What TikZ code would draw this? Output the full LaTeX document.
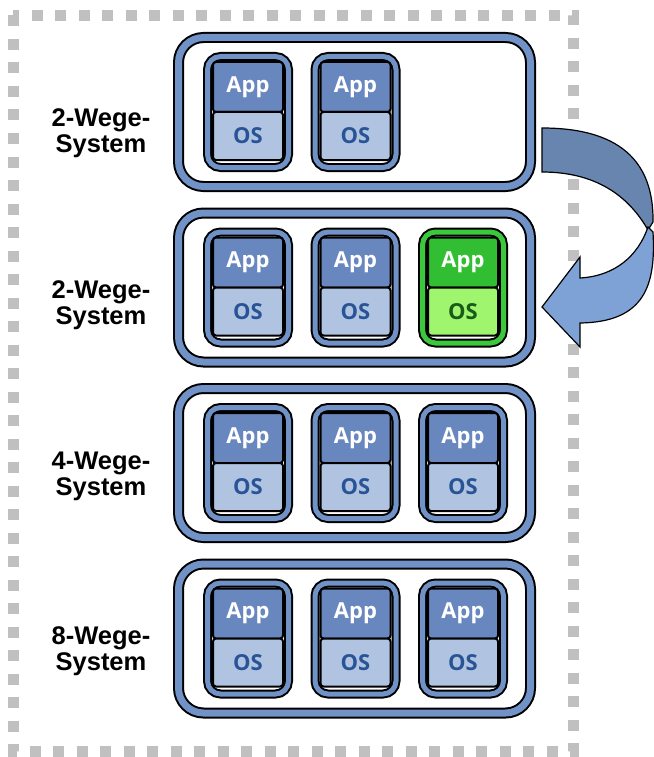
\documentclass[tikz,border=0pt]{standalone}
\usepackage{fontspec}
\setmainfont{Liberation Sans}
\newfontfamily\vmfont{Open Sans}
\usetikzlibrary{positioning}

\definecolor{bandblue}{RGB}{112,146,198}
\definecolor{appblue}{RGB}{104,135,190}
\definecolor{osblue}{RGB}{176,196,226}
\definecolor{ostext}{RGB}{40,84,150}
\definecolor{bandgreen}{RGB}{60,200,60}
\definecolor{appgreen}{RGB}{50,190,50}
\definecolor{osgreen}{RGB}{160,245,110}
\definecolor{osgreentext}{RGB}{25,90,25}
\definecolor{framegray}{RGB}{192,192,192}
\definecolor{arrowdark}{RGB}{104,133,176}
\definecolor{arrowlight}{RGB}{126,162,214}

\begin{document}
\begin{tikzpicture}[
  x=1pt, y=1pt,
  system/.style = {draw=black, line width=2pt, double=bandblue, double distance=7pt, rounded corners=25pt, minimum width=352pt, minimum height=149pt},
  vm/.style = {draw=black, line width=2pt, double=bandblue, double distance=5pt, rounded corners=13pt, minimum width=81pt, minimum height=111pt},
  vmpart/.style = {draw=black, line width=2pt, rounded corners=3pt, minimum width=70pt, inner sep=0pt, outer sep=0pt, font=\vmfont\bfseries\fontsize{22}{22}\selectfont},
  app/.style = {vmpart, fill=appblue, text=white, minimum height=50pt},
  os/.style = {vmpart, fill=osblue, text=ostext, minimum height=48pt},
  newvm/.style = {vm, double=bandgreen},
  newapp/.style = {app, fill=appgreen},
  newos/.style = {os, fill=osgreen, text=osgreentext},
  sysname/.style = {align=center, font=\bfseries\fontsize{25.5}{26}\selectfont},
  dotframe/.style = {draw=framegray, line width=11pt, dash pattern=on 11pt off 12.5pt}
]
  \useasboundingbox (0,0) rectangle (653,-757);

  % dotted frame
  \draw[dotframe] (13,-15.5) rectangle (573,-751);

  % systems
  \node[system] (sys1) at (354.5,-112) {};
  \node[system] (sys2) at (354.5,-287.5) {};
  \node[system] (sys3) at (354.5,-463) {};
  \node[system] (sys4) at (354.5,-638.5) {};

  \node[sysname] (name1) at (101,-133.5) {2-Wege-\\System};
  \node[sysname] (name2) at (101,-305) {2-Wege-\\System};
  \node[sysname] (name3) at (101,-476.5) {4-Wege-\\System};
  \node[sysname] (name4) at (101,-651.5) {8-Wege-\\System};

  % first system
  \node[vm] (vm11) at ([xshift=-106.5pt]sys1.center) {};
  \node[app, above=0pt of vm11.center] (app11) {App};
  \node[os, below=0pt of vm11.center] (os11) {OS};
  \node[vm] (vm12) at ([xshift=1pt]sys1.center) {};
  \node[app, above=0pt of vm12.center] (app12) {App};
  \node[os, below=0pt of vm12.center] (os12) {OS};

  % second system, with the moved machine
  \node[vm] (vm21) at ([xshift=-106.5pt]sys2.center) {};
  \node[app, above=0pt of vm21.center] (app21) {App};
  \node[os, below=0pt of vm21.center] (os21) {OS};
  \node[vm] (vm22) at ([xshift=1pt]sys2.center) {};
  \node[app, above=0pt of vm22.center] (app22) {App};
  \node[os, below=0pt of vm22.center] (os22) {OS};
  \node[newvm] (vm23) at ([xshift=108.5pt]sys2.center) {};
  \node[newapp, above=0pt of vm23.center] (app23) {App};
  \node[newos, below=0pt of vm23.center] (os23) {OS};

  % third system
  \node[vm] (vm31) at ([xshift=-106.5pt]sys3.center) {};
  \node[app, above=0pt of vm31.center] (app31) {App};
  \node[os, below=0pt of vm31.center] (os31) {OS};
  \node[vm] (vm32) at ([xshift=1pt]sys3.center) {};
  \node[app, above=0pt of vm32.center] (app32) {App};
  \node[os, below=0pt of vm32.center] (os32) {OS};
  \node[vm] (vm33) at ([xshift=108.5pt]sys3.center) {};
  \node[app, above=0pt of vm33.center] (app33) {App};
  \node[os, below=0pt of vm33.center] (os33) {OS};

  % fourth system
  \node[vm] (vm41) at ([xshift=-106.5pt]sys4.center) {};
  \node[app, above=0pt of vm41.center] (app41) {App};
  \node[os, below=0pt of vm41.center] (os41) {OS};
  \node[vm] (vm42) at ([xshift=1pt]sys4.center) {};
  \node[app, above=0pt of vm42.center] (app42) {App};
  \node[os, below=0pt of vm42.center] (os42) {OS};
  \node[vm] (vm43) at ([xshift=108.5pt]sys4.center) {};
  \node[app, above=0pt of vm43.center] (app43) {App};
  \node[os, below=0pt of vm43.center] (os43) {OS};

  % curved move arrow
  \draw[fill=arrowdark, line width=1.2pt] (542,-128) .. controls (618,-128) and (654,-160) .. (653,-222)
    -- (648,-230) .. controls (628,-195) and (595,-172) .. (542,-172) -- cycle;
  \draw[fill=arrowlight, line width=1.2pt, line join=miter] (648,-227) .. controls (638,-256) and (615,-276) .. (580,-278)
    -- (580,-257) -- (542,-307) -- (580,-347) -- (580,-323)
    .. controls (645,-322) and (656,-285) .. (653,-232) -- cycle;

\end{tikzpicture}
\end{document}
